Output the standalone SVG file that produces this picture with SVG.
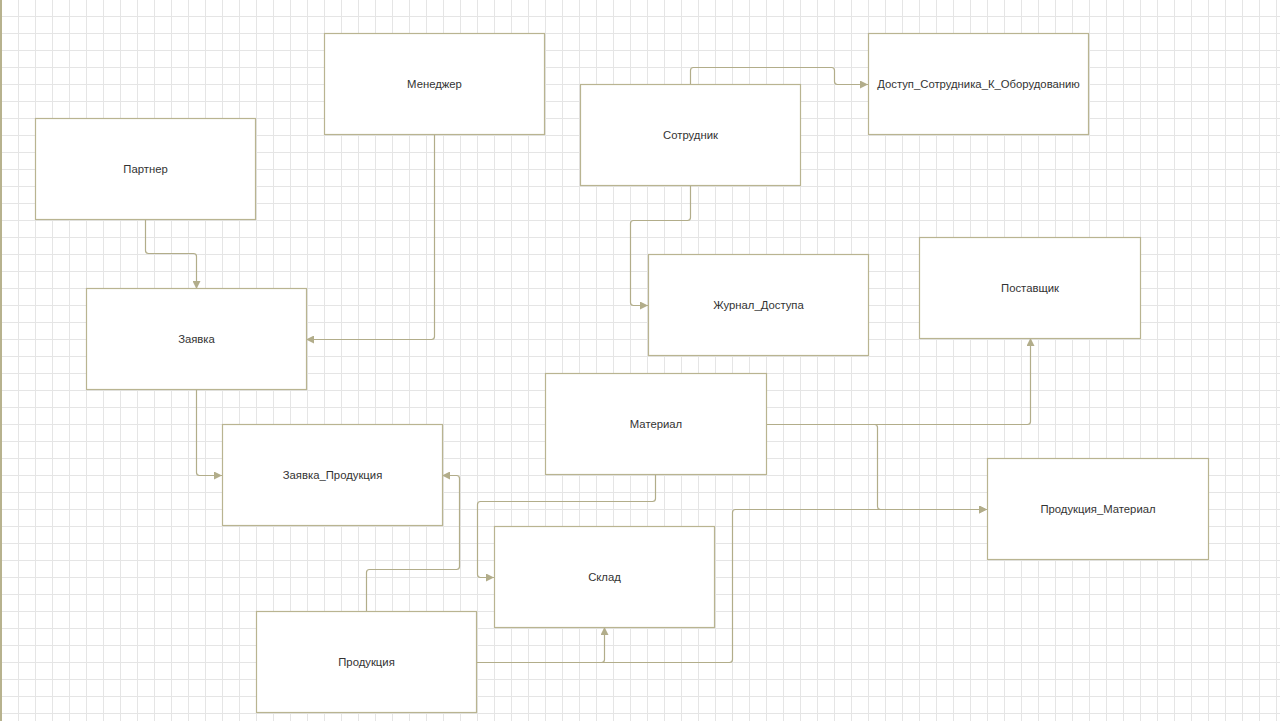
<svg xmlns="http://www.w3.org/2000/svg" width="1280" height="721" viewBox="0 0 1280 721">
<defs>
<pattern id="grid" patternUnits="userSpaceOnUse" x="1" y="16" width="17" height="17">
<path d="M0.5 0 V17 M0 0.5 H17" fill="none" stroke="#e5e5e5" stroke-width="1"/>
</pattern>
<marker id="arr" viewBox="0 0 10 10" refX="10" refY="5" markerWidth="8" markerHeight="8" markerUnits="userSpaceOnUse" orient="auto">
<path d="M0 0 L10 5 L0 10 Z" fill="#b2ad8a"/>
</marker>
<style>
.box{fill:#ffffff;stroke:#b9b491;stroke-width:1.2}
.lbl{font-family:"Liberation Sans",Arial,sans-serif;font-size:11.3px;fill:#333333;text-anchor:middle;dominant-baseline:central}
.con{fill:none;stroke:#b2ad8a;stroke-width:1.2;stroke-linejoin:round}
</style>
</defs>
<rect width="1280" height="721" fill="#ffffff"/>
<rect width="1280" height="721" fill="url(#grid)"/>
<rect x="0" y="0" width="2" height="721" fill="#b7b28e"/>

<g id="connectors">
<path class="con" marker-end="url(#arr)" d="M145.5 219 V250.5 Q145.5 253.5 148.5 253.5 H193.5 Q196.5 253.5 196.5 256.5 V289"/>
<path class="con" marker-end="url(#arr)" d="M434.5 134 V336.5 Q434.5 339.5 431.5 339.5 H306"/>
<path class="con" marker-end="url(#arr)" d="M690.5 84 V70.5 Q690.5 67.5 693.5 67.5 H831.5 Q834.5 67.5 834.5 70.5 V81.5 Q834.5 84.5 837.5 84.5 H868"/>
<path class="con" marker-end="url(#arr)" d="M690.5 185 V217.5 Q690.5 220.5 687.5 220.5 H633.5 Q630.5 220.5 630.5 223.5 V302.5 Q630.5 305.5 633.5 305.5 H648"/>
<path class="con" marker-end="url(#arr)" d="M196.5 389 V472.5 Q196.5 475.5 199.5 475.5 H222"/>
<path class="con" marker-end="url(#arr)" d="M366.5 611 V572.5 Q366.5 569.5 369.5 569.5 H456.5 Q459.5 569.5 459.5 566.5 V478.5 Q459.5 475.5 456.5 475.5 H442"/>
<path class="con" marker-end="url(#arr)" d="M655.5 474 V498.5 Q655.5 501.5 652.5 501.5 H480.5 Q477.5 501.5 477.5 504.5 V574.5 Q477.5 577.5 480.5 577.5 H494"/>
<path class="con" marker-end="url(#arr)" d="M476 662.5 H601.5 Q604.5 662.5 604.5 659.5 V627"/>
<path class="con" marker-end="url(#arr)" d="M476 662.5 H729.5 Q732.5 662.5 732.5 659.5 V512.5 Q732.5 509.5 735.5 509.5 H987"/>
<path class="con" marker-end="url(#arr)" d="M766 424.5 H1027.5 Q1030.5 424.5 1030.5 421.5 V338"/>
<path class="con" marker-end="url(#arr)" d="M766 424.5 H874.5 Q877.5 424.5 877.5 427.5 V506.5 Q877.5 509.5 880.5 509.5 H987"/>
</g>

<g id="menedzher"><rect class="box" x="324.5" y="33.5" width="220" height="101"/><text class="lbl" x="434.5" y="84">Менеджер</text></g>
<g id="partner"><rect class="box" x="35.5" y="118.5" width="220" height="101"/><text class="lbl" x="145.5" y="169">Партнер</text></g>
<g id="sotrudnik"><rect class="box" x="580.5" y="84.5" width="220" height="101"/><text class="lbl" x="690.5" y="135">Сотрудник</text></g>
<g id="dostup"><rect class="box" x="868.5" y="33.5" width="220" height="101"/><text class="lbl" x="978.5" y="84">Доступ_Сотрудника_К_Оборудованию</text></g>
<g id="zhurnal"><rect class="box" x="648.5" y="254.5" width="220" height="101"/><text class="lbl" x="758.5" y="305">Журнал_Доступа</text></g>
<g id="postavshchik"><rect class="box" x="919.5" y="237.5" width="221" height="101"/><text class="lbl" x="1030" y="288">Поставщик</text></g>
<g id="zayavka"><rect class="box" x="86.5" y="288.5" width="220" height="101"/><text class="lbl" x="196.5" y="339">Заявка</text></g>
<g id="material"><rect class="box" x="545.5" y="373.5" width="221" height="101"/><text class="lbl" x="656" y="424">Материал</text></g>
<g id="zayavka_produktsiya"><rect class="box" x="222.5" y="424.5" width="220" height="101"/><text class="lbl" x="332.5" y="475">Заявка_Продукция</text></g>
<g id="produktsiya_material"><rect class="box" x="987.5" y="458.5" width="221" height="101"/><text class="lbl" x="1098" y="509">Продукция_Материал</text></g>
<g id="sklad"><rect class="box" x="494.5" y="526.5" width="220" height="101"/><text class="lbl" x="604.5" y="577">Склад</text></g>
<g id="produktsiya"><rect class="box" x="256.5" y="611.5" width="220" height="101"/><text class="lbl" x="366.5" y="662">Продукция</text></g>
</svg>
